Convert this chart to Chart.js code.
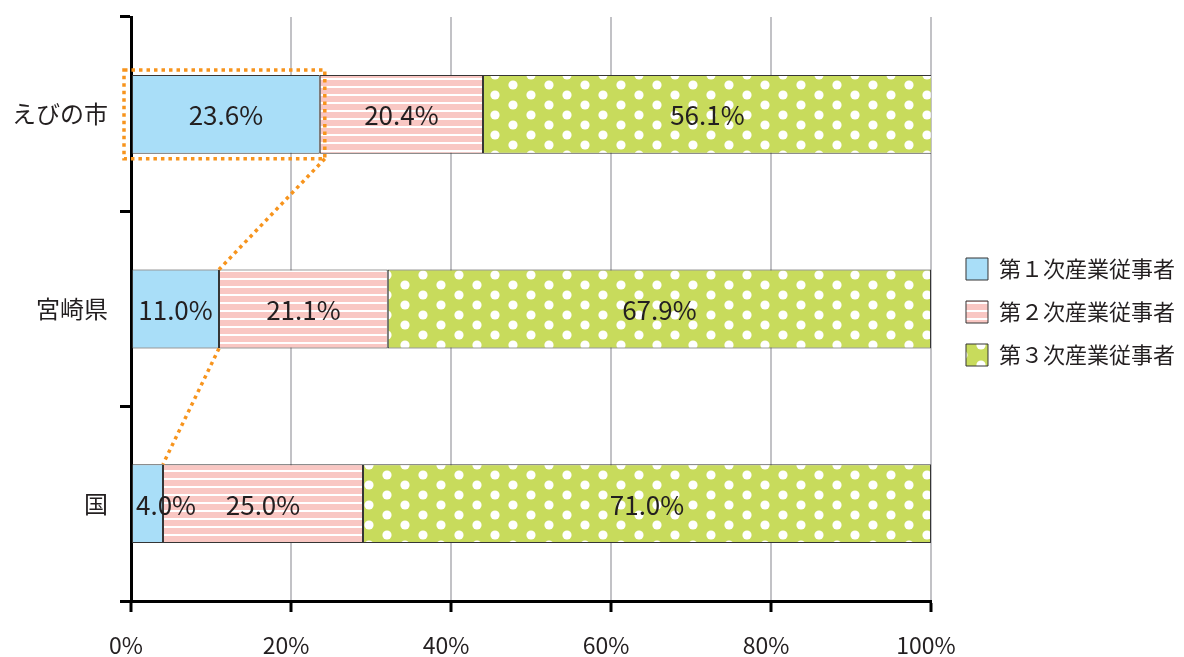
<!DOCTYPE html>
<html lang="ja">
<head>
<meta charset="utf-8">
<script src="https://cdn.jsdelivr.net/npm/chart.js@4.4.1/dist/chart.umd.min.js"></script>
<style>
  html, body { margin: 0; padding: 0; background: #ffffff; }
  #wrap { width: 1184px; height: 657px; position: relative; }
</style>
</head>
<body>
<div id="wrap"><canvas id="chart" width="1184" height="657"></canvas></div>
<script>
// 産業別就業者の構成比（%）
const categories = ['えびの市', '宮崎県', '国'];
const primaryShare = [23.6, 11.0, 4.0];
const secondaryShare = [20.4, 21.1, 25.0];
const tertiaryShare = [56.1, 67.9, 71.0];
const seriesNames = ['第１次産業従事者', '第２次産業従事者', '第３次産業従事者'];
const xTickValues = [0, 20, 40, 60, 80, 100];

const FONT = '"Noto Sans CJK JP", "Noto Sans", sans-serif';
const INK = '#231f20';

// 横縞（第2次）
function stripePattern() {
  const c = document.createElement('canvas');
  c.width = 8; c.height = 8;
  const g = c.getContext('2d');
  g.fillStyle = '#f9c7c3';
  g.fillRect(0, 0, 8, 8);
  g.fillStyle = '#ffffff';
  g.fillRect(0, 6, 8, 2);
  return g.createPattern(c, 'repeat');
}

// 水玉（第3次）
function dotPattern() {
  const c = document.createElement('canvas');
  c.width = 36; c.height = 20;
  const g = c.getContext('2d');
  g.fillStyle = '#c8db5c';
  g.fillRect(0, 0, 36, 20);
  g.fillStyle = '#ffffff';
  [[9, 5], [27, 15]].forEach(([x, y]) => {
    g.beginPath();
    g.arc(x, y, 4.6, 0, Math.PI * 2);
    g.fill();
  });
  return g.createPattern(c, 'repeat');
}

// 各区間の中央に値を表示（収まらない場合は左寄せ）
const valueLabels = {
  id: 'valueLabels',
  afterDatasetsDraw(chart) {
    const ctx = chart.ctx;
    ctx.save();
    ctx.font = '26px ' + FONT;
    ctx.fillStyle = INK;
    ctx.textBaseline = 'middle';
    chart.data.datasets.forEach((ds, di) => {
      chart.getDatasetMeta(di).data.forEach((bar, i) => {
        const text = ds.data[i].toFixed(1) + '%';
        const w = ctx.measureText(text).width;
        const left = Math.min(bar.x, bar.base);
        const right = Math.max(bar.x, bar.base);
        if (w > right - left) {
          ctx.textAlign = 'left';
          ctx.fillText(text, left + 4, bar.y + 1);
        } else {
          ctx.textAlign = 'center';
          ctx.fillText(text, (left + right) / 2, bar.y + 1);
        }
      });
    });
    ctx.restore();
  }
};

// 第1次産業の比較を示す点線（枠と引き出し線）
const callout = {
  id: 'callout',
  afterDatasetsDraw(chart) {
    const bars = chart.getDatasetMeta(0).data;
    const edges = (b) => ({
      l: Math.min(b.x, b.base), r: Math.max(b.x, b.base),
      t: b.y - b.height / 2, b: b.y + b.height / 2
    });
    const a = edges(bars[0]), m = edges(bars[1]), n = edges(bars[2]);
    const ctx = chart.ctx;
    ctx.save();
    ctx.strokeStyle = '#f7941d';
    ctx.lineWidth = 3.5;
    ctx.setLineDash([3.5, 4]);
    const box = { l: a.l - 8, r: a.r + 5, t: a.t - 5, b: a.b + 5 };
    ctx.strokeRect(box.l, box.t, box.r - box.l, box.b - box.t);
    ctx.beginPath();
    ctx.moveTo(box.r, box.b);
    ctx.lineTo(m.r, m.t);
    ctx.moveTo(m.r, m.b);
    ctx.lineTo(n.r, n.t);
    ctx.stroke();
    ctx.restore();
  }
};

// 凡例を右側へ寄せる
const legendShift = {
  id: 'legendShift',
  afterLayout(chart) {
    const lg = chart.legend;
    if (!lg) return;
    const dx = (chart.chartArea.right + 35) - (lg.left + lg.options.labels.padding);
    lg.left += dx;
    lg.right += dx;
    lg.top -= 25;
    lg.bottom -= 25;
  }
};

const border = '#353535';

new Chart(document.getElementById('chart'), {
  type: 'bar',
  data: {
    labels: categories,
    datasets: [
      { label: seriesNames[0], data: primaryShare, backgroundColor: '#a9def8' },
      { label: seriesNames[1], data: secondaryShare, backgroundColor: stripePattern() },
      { label: seriesNames[2], data: tertiaryShare, backgroundColor: dotPattern() }
    ].map(d => Object.assign(d, {
      borderColor: border,
      borderWidth: 1,
      borderSkipped: false,
      barPercentage: 1,
      categoryPercentage: 0.405
    }))
  },
  options: {
    indexAxis: 'y',
    responsive: false,
    animation: false,
    layout: { padding: { top: 17, left: 0, right: 13, bottom: 0 } },
    scales: {
      x: {
        stacked: true,
        min: 0,
        max: 100,
        afterBuildTicks(scale) { scale.ticks = xTickValues.map(v => ({ value: v })); },
        afterFit(scale) { scale.height = 56; },
        ticks: {
          callback: v => v + '%',
          font: { size: 23, family: FONT },
          color: INK,
          padding: 19,
          labelOffset: -5,
          maxRotation: 0
        },
        grid: {
          color: '#c2c2c6',
          lineWidth: 2,
          drawTicks: true,
          tickLength: 11,
          tickColor: '#000000',
          tickWidth: 3
        },
        border: { display: true, color: '#000000', width: 3 }
      },
      y: {
        stacked: true,
        z: 1,
        afterFit(scale) {
          scale.width = 131;
          scale.paddingTop = 0;
          scale.paddingBottom = 0;
        },
        ticks: {
          font: { size: 24, family: FONT },
          color: INK,
          padding: 12
        },
        grid: {
          drawOnChartArea: false,
          drawTicks: true,
          offset: true,
          tickLength: 11,
          tickColor: '#000000',
          tickWidth: 3
        },
        border: { display: true, color: '#000000', width: 3 }
      }
    },
    plugins: {
      legend: {
        position: 'right',
        labels: {
          boxWidth: 22,
          boxHeight: 22,
          padding: 21,
          color: INK,
          font: { size: 22, family: FONT }
        }
      },
      tooltip: { enabled: false }
    }
  },
  plugins: [valueLabels, callout, legendShift]
});
</script>
</body>
</html>
